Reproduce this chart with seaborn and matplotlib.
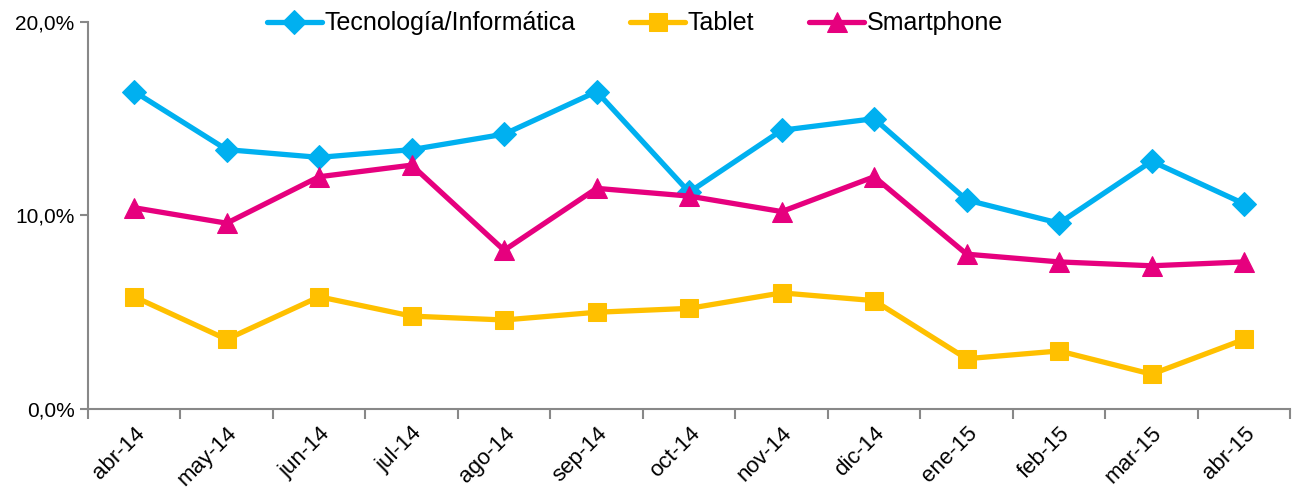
import pandas as pd
import matplotlib
matplotlib.use("Agg")
import matplotlib.pyplot as plt
from matplotlib.ticker import FuncFormatter, FixedLocator
import seaborn as sns

#%% Datos
meses = ["abr-14", "may-14", "jun-14", "jul-14", "ago-14", "sep-14", "oct-14",
         "nov-14", "dic-14", "ene-15", "feb-15", "mar-15", "abr-15"]
tecnologia = [16.4, 13.4, 13.0, 13.4, 14.2, 16.4, 11.2, 14.4, 15.0, 10.8, 9.6, 12.8, 10.6]
tablet = [5.8, 3.6, 5.8, 4.8, 4.6, 5.0, 5.2, 6.0, 5.6, 2.6, 3.0, 1.8, 3.6]
smartphone = [10.4, 9.6, 12.0, 12.6, 8.2, 11.4, 11.0, 10.2, 12.0, 8.0, 7.6, 7.4, 7.6]

series = ["Tecnología/Informática", "Tablet", "Smartphone"]
colores = ["#00B0F0", "#FFC000", "#E6007E"]
marcadores = ["D", "s", "^"]
tamanhos = [12, 13, 14]

df = pd.DataFrame({"mes": meses * 3,
                   "valor": tecnologia + tablet + smartphone,
                   "serie": [s for s in series for _ in meses]})

#%% Grafico
sns.set_style("white")
plt.rcParams["font.family"] = ["Liberation Sans", "DejaVu Sans"]
plt.rcParams["text.color"] = "black"

fig = plt.figure(figsize=(12.93, 4.97), dpi=100)
ax = fig.add_axes([0.068, 0.177, 0.93, 0.779])

for serie, cor, mk, ms in zip(series, colores, marcadores, tamanhos):
    sub = df[df["serie"] == serie]
    sns.lineplot(data=sub, x="mes", y="valor", ax=ax, color=cor, linewidth=3.8,
                 marker=mk, markersize=ms, markeredgecolor=cor, label=serie, sort=False)

ax.set_xlim(-0.5, len(meses) - 0.5)
ax.set_ylim(0, 20)
ax.set_xlabel("")
ax.set_ylabel("")

# ticks entre categorias, rotulos no centro
ax.xaxis.set_major_locator(FixedLocator([i - 0.5 for i in range(len(meses) + 1)]))
ax.xaxis.set_minor_locator(FixedLocator(range(len(meses))))
ax.set_xticklabels([], minor=False)
ax.set_xticklabels(meses, minor=True, rotation=45, ha="right", va="top",
                   rotation_mode="anchor", fontsize=16, color="black")
ax.tick_params(axis="x", which="minor", bottom=True, length=0, pad=10)
ax.tick_params(axis="x", which="major", bottom=True, length=7, width=1.5,
               color="#888888", direction="out")

ax.set_yticks([0, 10, 20])
ax.yaxis.set_major_formatter(FuncFormatter(lambda v, p: f"{v:.1f}%".replace(".", ",")))
ax.tick_params(axis="y", left=True, length=6, width=1.5, color="#888888",
               direction="out", labelsize=15, labelcolor="black")

for lado in ["top", "right"]:
    ax.spines[lado].set_visible(False)
for lado in ["left", "bottom"]:
    ax.spines[lado].set_color("#888888")
    ax.spines[lado].set_linewidth(1.5)

ax.legend(loc="upper center", bbox_to_anchor=(0.455, 1.085), ncol=3, frameon=False,
          fontsize=18, handlelength=2.2, handletextpad=0.1, columnspacing=2.2,
          labelcolor="black")

fig.savefig("out.png", dpi=100)
